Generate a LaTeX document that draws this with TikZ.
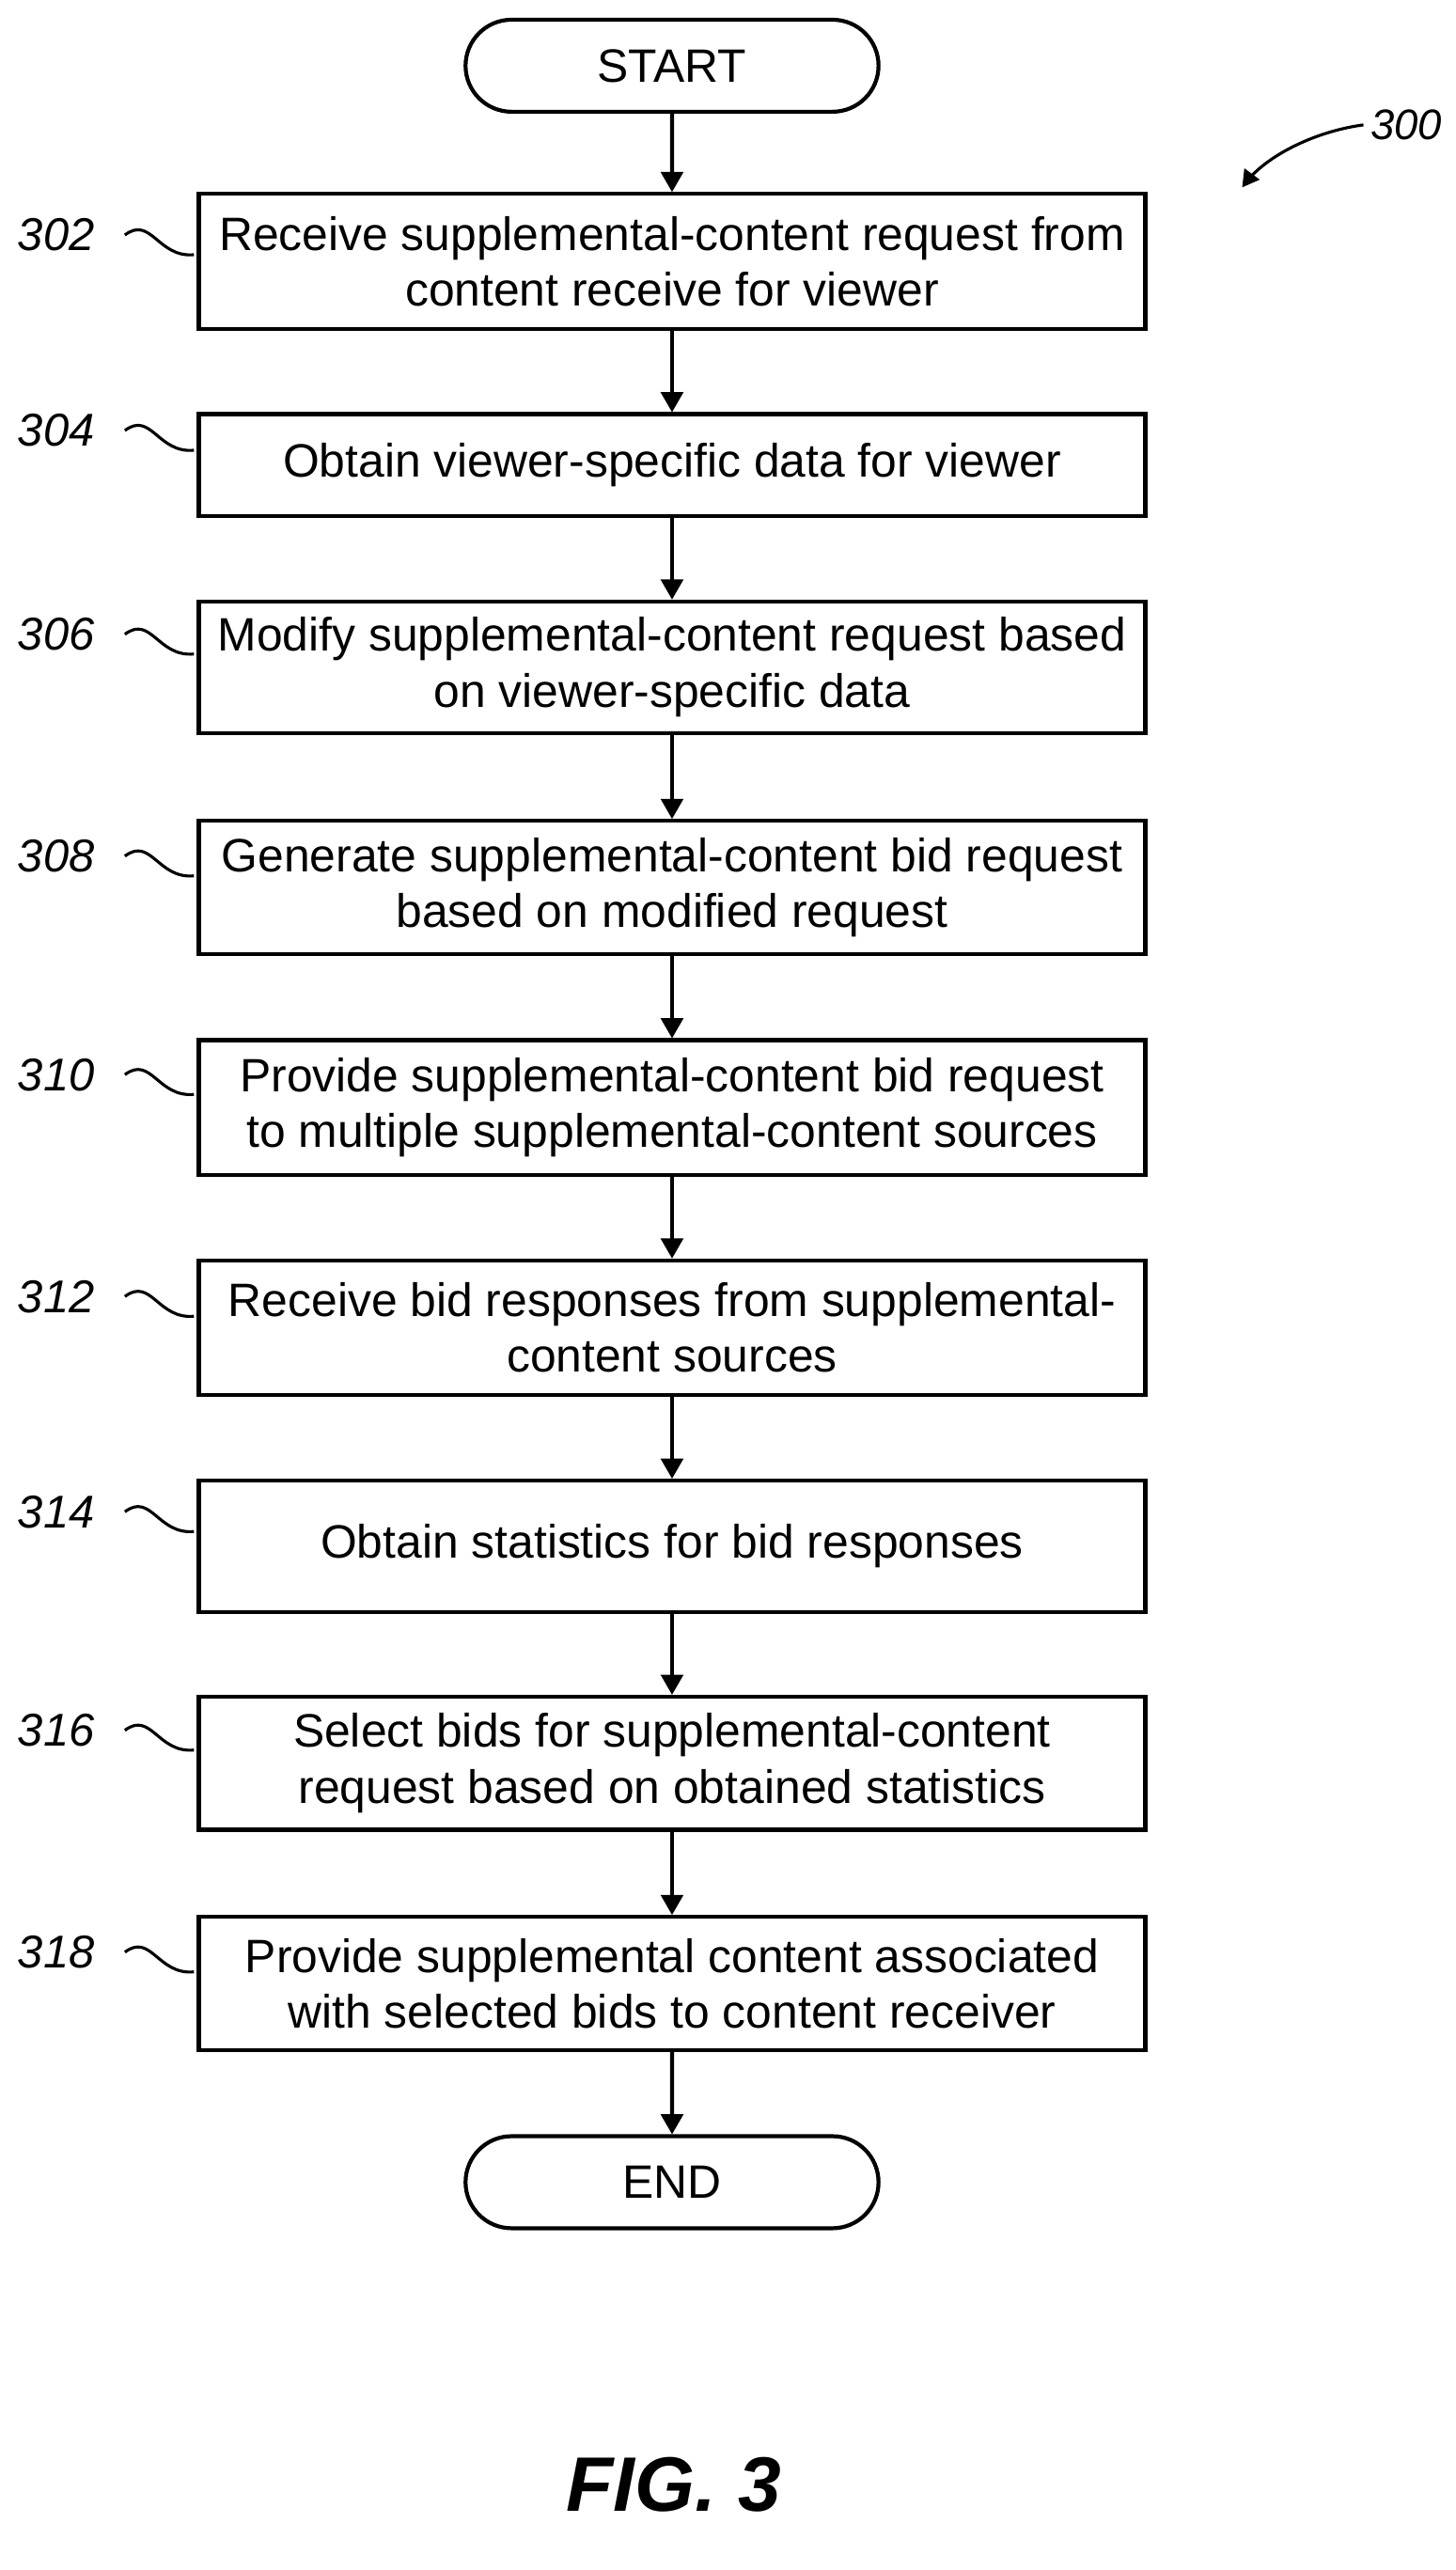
\documentclass[tikz,border=0pt]{standalone}
\usepackage{fontspec}
\setmainfont{Liberation Sans}
\usetikzlibrary{arrows,shapes.misc,positioning}

\begin{document}
\begin{tikzpicture}[x=1pt, y=-1pt, ->, >=triangle 60, line width=2.4pt]
    \tikzstyle{every node}=[font=\fontsize{28.5}{34}\selectfont]
    \tikzstyle{flowbox}=[draw, rectangle, minimum width=576pt, align=center, inner sep=2pt]
    \tikzstyle{term}=[draw, rounded rectangle, minimum width=258pt, minimum height=56pt]
    \tikzstyle{ref}=[font=\fontsize{28}{32}\selectfont\itshape, anchor=east]
    \tikzstyle{tilde}=[-, line width=1.8pt]

    \useasboundingbox (0,0) rectangle (886,1564);

    \node[term] (start) at (409,40) {START};
    \node[flowbox, minimum height=82pt] (s302) at (409,159)
        {Receive supplemental-content request from\\content receive for viewer};
    \node[flowbox, minimum height=62pt] (s304) at (409,283)
        {Obtain viewer-specific data for viewer};
    \node[flowbox, minimum height=80pt] (s306) at (409,406)
        {Modify supplemental-content request based\\on viewer-specific data};
    \node[flowbox, minimum height=81pt] (s308) at (409,540)
        {Generate supplemental-content bid request\\based on modified request};
    \node[flowbox, minimum height=82pt] (s310) at (409,674)
        {Provide supplemental-content bid request\\to multiple supplemental-content sources};
    \node[flowbox, minimum height=82pt] (s312) at (409,808)
        {Receive bid responses from supplemental-\\content sources};
    \node[flowbox, minimum height=80pt] (s314) at (409,941)
        {Obtain statistics for bid responses};
    \node[flowbox, minimum height=81pt] (s316) at (409,1073)
        {Select bids for supplemental-content\\request based on obtained statistics};
    \node[flowbox, minimum height=81pt] (s318) at (409,1207)
        {Provide supplemental content associated\\with selected bids to content receiver};
    \node[term] (end) at (409,1328) {END};

    \path
    (start) edge (s302)
    (s302)  edge (s304)
    (s304)  edge (s306)
    (s306)  edge (s308)
    (s308)  edge (s310)
    (s310)  edge (s312)
    (s312)  edge (s314)
    (s314)  edge (s316)
    (s316)  edge (s318)
    (s318)  edge (end);

    % reference numerals
    \foreach \n/\y in {302/143, 304/262, 306/386, 308/521, 310/654, 312/789, 314/920, 316/1053, 318/1188} {
        \node[ref] (r\n) at (62,\y) {\n};
        \draw[tilde] (76,\y) .. controls (92,\y-12) and (96,\y+14) .. (118,\y+12);
    }

    \node[font=\fontsize{26}{30}\selectfont\itshape] (r300) at (856,76) {300};
    \coordinate (a300) at (756,114);
    \draw[line width=1.8pt] (r300.west) .. controls (800,80) and (770,95) .. (a300);

    \node[font=\fontsize{47}{54}\selectfont\bfseries\itshape] (fig) at (410,1512) {FIG. 3};
\end{tikzpicture}
\end{document}
